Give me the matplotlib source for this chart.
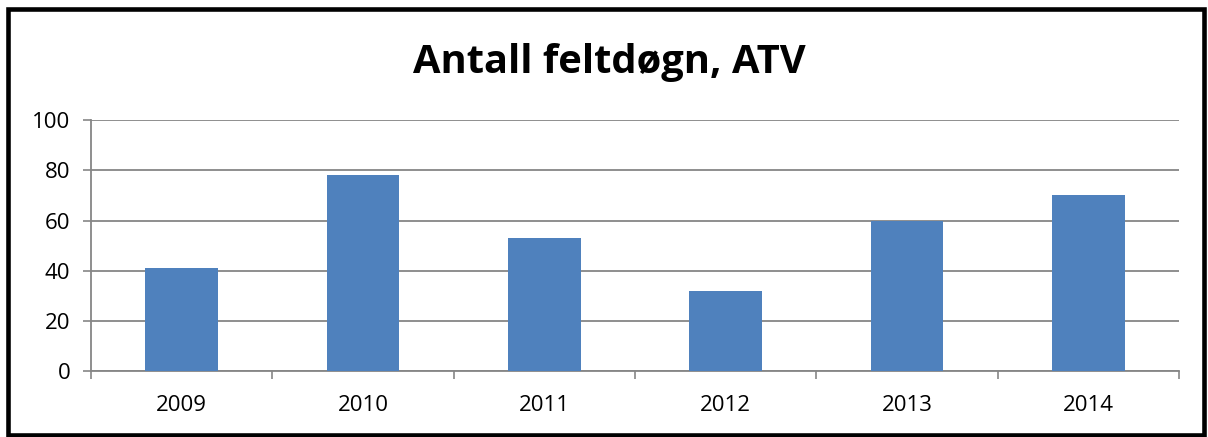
import matplotlib.pyplot as plt
from matplotlib.patches import Rectangle
import numpy as np

years = ["2009", "2010", "2011", "2012", "2013", "2014"]
feltdogn = [41, 78, 53, 32, 60, 70]

bar_color = "#4F81BD"
grid_color = "#868686"

plt.rcParams['font.family'] = ['Open Sans', 'DejaVu Sans']

fig = plt.figure(figsize=(12.08, 4.37), dpi=100)
ax = fig.add_axes([0.0753, 0.151, 0.9007, 0.574])

x = np.arange(len(years))
ax.bar(x, feltdogn, width=0.4, color=bar_color, zorder=3)

ax.set_xlim(-0.5, len(years) - 0.5)
ax.set_ylim(0, 100)
ax.set_yticks(range(0, 101, 20))
ax.grid(axis="y", color=grid_color, linewidth=1.3, zorder=0)

# category labels centered, ticks at the boundaries
ax.set_xticks(x)
ax.set_xticklabels(years, fontsize=16)
ax.tick_params(axis="x", length=0, pad=17)
ax.set_xticks(np.arange(-0.5, len(years)), minor=True)
ax.tick_params(axis="x", which="minor", length=6, color=grid_color, width=1.2)
ax.tick_params(axis="y", labelsize=16, length=6, color=grid_color, width=1.2, pad=9)

for s in ["top", "right"]:
    ax.spines[s].set_visible(False)
for s in ["left", "bottom"]:
    ax.spines[s].set_color(grid_color)
    ax.spines[s].set_linewidth(1.3)

fig.text(0.504, 0.833, "Antall feltdøgn, ATV", ha="center", va="baseline",
         fontsize=28.7, fontweight="bold")

fig.patches.append(Rectangle((0.007, 0.005), 0.9897, 0.974, transform=fig.transFigure,
                             fill=False, edgecolor="black", linewidth=3.3))

fig.savefig("out.png", dpi=100)
